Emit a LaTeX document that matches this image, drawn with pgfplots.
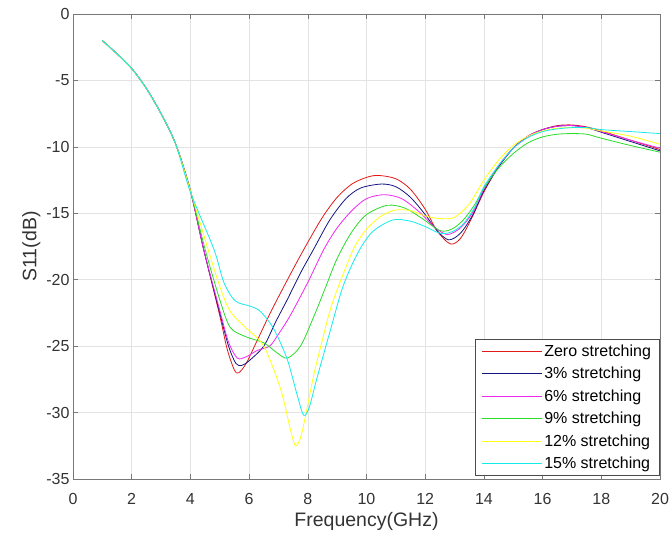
\documentclass[border=0pt]{standalone}
\usepackage{fontspec}
\setmainfont{Liberation Sans}
\usepackage{pgfplots}
\pgfplotsset{compat=1.18}
\definecolor{axgray}{RGB}{120,120,120}
\definecolor{cRed}{RGB}{225,25,25}
\definecolor{cBlue}{RGB}{20,20,130}
\definecolor{cMag}{RGB}{240,40,240}
\definecolor{cGreen}{RGB}{40,220,40}
\definecolor{cYel}{RGB}{255,255,20}
\definecolor{cCyan}{RGB}{20,235,235}
\begin{document}
\begin{tikzpicture}
\useasboundingbox (-73pt,-60pt) rectangle (597pt,479pt);
\begin{axis}[
  at={(0pt,0pt)}, anchor=south west,
  scale only axis, width=587pt, height=465pt,
  xmin=0, xmax=20, ymin=-35, ymax=0,
  xtick={0,2,...,20}, ytick={-35,-30,...,0},
  grid=major, major grid style={gray!22, line width=0.6pt},
  axis line style={axgray, line width=0.9pt},
  tick style={axgray, line width=0.6pt},
  tick align=inside, tick pos=both, major tick length=5pt,
  /pgf/number format/assume math mode=true,
  ticklabel style={font=\fontsize{16}{16}\selectfont, text=black!80},
  xticklabel style={yshift=-11pt},
  label style={font=\fontsize{19.5}{19.5}\selectfont, text=black!80},
  xlabel={Frequency(GHz)}, ylabel={S11(dB)},
  xlabel style={yshift=-1pt},
  ylabel style={yshift=-1pt},
  legend cell align=left,
  legend style={at={(rel axis cs:0.999,0.006)}, anchor=south east,
    font=\fontsize{16}{17}\selectfont, draw=black!70, line width=0.8pt,
    row sep=5.4pt, inner xsep=6pt, inner ysep=3.5pt},
  legend image code/.code={\draw[#1, line width=1pt] (0pt,0pt) -- (60pt,0pt);},
  every axis plot/.append style={line width=0.8pt, smooth, tension=0.5, mark=none},
]
\addplot[cRed] coordinates {(1,-2)(1.5,-3)(2,-4.1)(2.5,-5.6)(3,-7.5)(3.5,-9.8)(4,-13.3)(4.45,-17.7)(5,-22.7)(5.25,-25.2)(5.5,-26.8)(5.65,-27)(5.9,-26.3)(6.27,-24.6)(6.7,-22.6)(7.07,-21)(7.5,-19.2)(7.92,-17.5)(8.5,-15.3)(9,-13.8)(9.5,-12.8)(10,-12.3)(10.4,-12.15)(11,-12.4)(11.5,-13.2)(12,-14.7)(12.4,-16.3)(12.85,-17.3)(13.2,-16.9)(13.6,-15.3)(14,-13.4)(14.5,-11.5)(15,-10.1)(15.5,-9.2)(16,-8.7)(16.5,-8.4)(17,-8.35)(17.5,-8.5)(18,-8.8)(19,-9.5)(20,-10.2)};
\addlegendentry{Zero stretching}
\addplot[cBlue] coordinates {(1,-2)(1.5,-3)(2,-4.1)(2.5,-5.6)(3,-7.5)(3.5,-9.8)(4,-13.3)(4.45,-17.7)(5,-22.5)(5.3,-25)(5.55,-26.3)(5.75,-26.45)(6,-26.1)(6.5,-25)(6.9,-23.2)(7.3,-21.5)(7.75,-19.5)(8.2,-17.7)(8.75,-15.5)(9.3,-13.9)(9.8,-13.1)(10.5,-12.8)(11,-13)(11.5,-13.8)(12,-15.1)(12.4,-16.3)(12.8,-17)(13.2,-16.5)(13.6,-15.2)(14,-13.3)(14.5,-11.5)(15,-10.1)(15.5,-9.2)(16,-8.7)(16.5,-8.45)(17,-8.4)(17.5,-8.55)(18,-8.9)(19,-9.6)(20,-10.3)};
\addlegendentry{3\% stretching}
\addplot[cMag] coordinates {(1,-2)(1.5,-3)(2,-4.1)(2.5,-5.6)(3,-7.5)(3.5,-9.8)(4,-13.3)(4.45,-17.7)(5,-22.3)(5.3,-24.7)(5.6,-25.9)(5.9,-25.8)(6.3,-25.3)(6.7,-25)(7,-24.1)(7.4,-22.7)(8,-20.2)(8.55,-17.7)(9,-16.1)(9.5,-14.8)(10,-13.9)(10.6,-13.6)(11.2,-13.9)(11.8,-14.9)(12.3,-16)(12.75,-16.6)(13.2,-16.1)(13.6,-15)(14,-13.2)(14.5,-11.4)(15,-10.1)(15.5,-9.2)(16,-8.7)(16.5,-8.45)(17,-8.4)(17.5,-8.55)(18,-8.85)(19,-9.5)(20,-10.1)};
\addlegendentry{6\% stretching}
\addplot[cGreen] coordinates {(1,-2)(1.5,-3)(2,-4.1)(2.5,-5.6)(3,-7.5)(3.5,-9.8)(4,-13.3)(4.5,-17.7)(5,-21.5)(5.36,-23.6)(5.9,-24.3)(6.5,-24.75)(6.95,-25.5)(7.3,-25.9)(7.75,-25)(8.2,-22.8)(8.6,-20.6)(9,-18.4)(9.5,-16.4)(10,-15.1)(10.7,-14.4)(11.3,-14.6)(11.9,-15.4)(12.5,-16.3)(12.9,-16.2)(13.3,-15.5)(13.7,-14.3)(14,-13.1)(14.5,-11.6)(15,-10.5)(15.5,-9.7)(16,-9.25)(16.5,-9.05)(17,-9.0)(17.5,-9.05)(18,-9.35)(19,-9.9)(20,-10.4)};
\addlegendentry{9\% stretching}
\addplot[cYel] coordinates {(1,-2)(1.5,-3)(2,-4.1)(2.5,-5.6)(3,-7.5)(3.5,-9.8)(4,-13.3)(4.6,-17.7)(5,-20.5)(5.36,-22.4)(5.93,-23.7)(6.5,-25)(7.07,-28.2)(7.4,-31.2)(7.58,-32.5)(7.75,-31.9)(7.9,-30.5)(8.2,-27.2)(8.5,-24.5)(8.8,-22)(9.2,-19.6)(9.6,-17.5)(10,-16.2)(10.5,-15.2)(11,-14.75)(11.5,-14.8)(12,-15.2)(12.5,-15.4)(13,-15.3)(13.5,-14.3)(14,-12.5)(14.5,-11)(15,-9.9)(15.5,-9.2)(16,-8.8)(16.5,-8.6)(17,-8.55)(17.5,-8.6)(18,-8.8)(19,-9.2)(20,-9.8)};
\addlegendentry{12\% stretching}
\addplot[cCyan] coordinates {(1,-2)(1.5,-3)(2,-4.1)(2.5,-5.6)(3,-7.5)(3.5,-9.8)(4,-13.4)(4.8,-17.7)(5.14,-20.2)(5.53,-21.6)(6.05,-22)(6.39,-22.4)(6.84,-23.7)(7.3,-26)(7.64,-28.7)(7.86,-30.2)(8.05,-29.6)(8.3,-27.5)(8.77,-23.8)(9.2,-20.5)(9.7,-18)(10.2,-16.4)(10.9,-15.5)(11.5,-15.6)(12,-16)(12.5,-16.5)(12.9,-16.4)(13.3,-15.8)(13.7,-14.5)(14,-13)(14.5,-11.4)(15,-10.1)(15.5,-9.3)(16,-8.85)(16.5,-8.65)(17,-8.55)(17.5,-8.55)(18,-8.7)(19,-8.85)(20,-9.0)};
\addlegendentry{15\% stretching}
\end{axis}
\end{tikzpicture}
\end{document}
